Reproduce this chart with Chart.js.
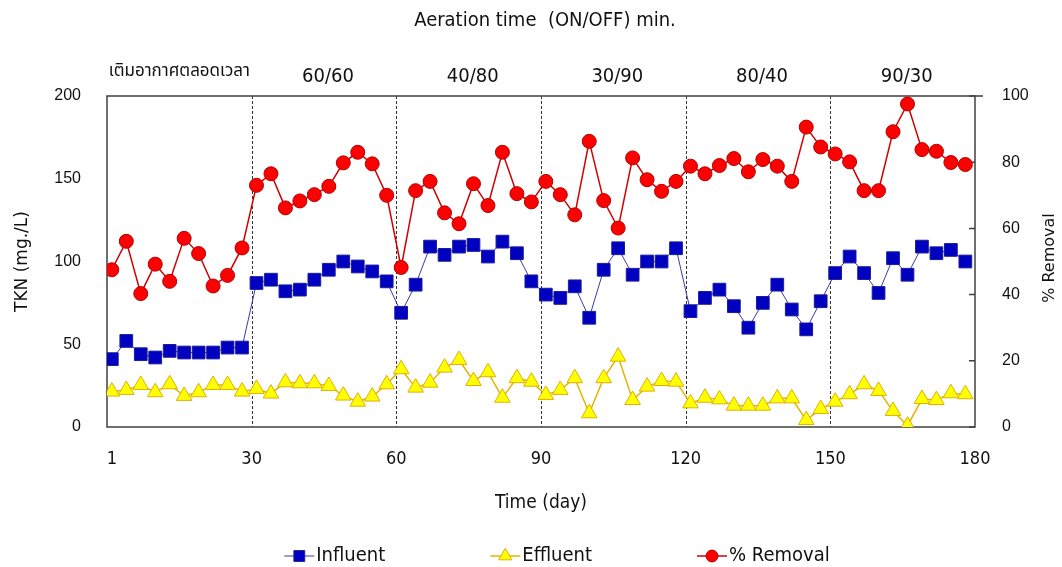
<!DOCTYPE html>
<html>
<head>
<meta charset="utf-8">
<script src="https://cdn.jsdelivr.net/npm/chart.js@4.4.1/dist/chart.umd.min.js"></script>
<style>
  html, body { margin: 0; padding: 0; background: #fff; }
  #wrap { width: 1062px; height: 567px; }
</style>
</head>
<body>
<div id="wrap"><canvas id="c" width="1062" height="567"></canvas></div>
<script>
// Sampling days (every 3 days over the 180-day run)
const days = [1, 4, 7, 10, 13, 16, 19, 22, 25, 28,
  31, 34, 37, 40, 43, 46, 49, 52, 55, 58,
  61, 64, 67, 70, 73, 76, 79, 82, 85, 88,
  91, 94, 97, 100, 103, 106, 109, 112, 115, 118,
  121, 124, 127, 130, 133, 136, 139, 142, 145, 148,
  151, 154, 157, 160, 163, 166, 169, 172, 175, 178];

// TKN in the influent (mg/L)
const influent = [41, 52, 44, 42, 46, 45, 45, 45, 48, 48,
  87, 89, 82, 83, 89, 95, 100, 97, 94, 88,
  69, 86, 109, 104, 109, 110, 103, 112, 105, 88,
  80, 78, 85, 66, 95, 108, 92, 100, 100, 108,
  70, 78, 83, 73, 60, 75, 86, 71, 59, 76,
  93, 103, 93, 81, 102, 92, 109, 105, 107, 100];

// TKN in the effluent (mg/L)
const effluent = [21.4, 22.4, 25.4, 21, 25.8, 18.8, 21, 25.4, 25.4, 21.4,
  23, 20.2, 27, 26.4, 26.4, 24.8, 19, 15.3, 18.4, 25.8,
  34.9, 23.8, 26.8, 35.9, 40.5, 27.8, 33.1, 17.7, 29.5, 27.4,
  19.4, 22.4, 29.5, 8.3, 29.5, 42.5, 16.3, 24.4, 27.8, 27.4,
  14.3, 17.7, 16.7, 12.9, 12.9, 12.9, 17.3, 17.3, 4.2, 10.9,
  15.3, 19.8, 25.8, 21.8, 9.7, 0.8, 16.9, 16.3, 20.4, 19.8];

// TKN removal efficiency (%)
const removal = [47.5, 56.1, 40.3, 49.2, 44, 57, 52.4, 42.6, 45.8, 54.1,
  73, 76.5, 66.2, 68.3, 70.2, 72.7, 79.8, 83, 79.5, 70,
  48.2, 71.4, 74.2, 64.7, 61.4, 73.5, 66.9, 83, 70.5, 68,
  74.2, 70.2, 64.1, 86.3, 68.4, 60.1, 81.3, 74.7, 71.2, 74.2,
  78.8, 76.5, 79, 81.1, 77.1, 80.8, 78.8, 74.2, 90.6, 84.6,
  82.5, 80.1, 71.4, 71.4, 89.2, 97.6, 83.8, 83.3, 79.9, 79.3];

// Aeration phases: boundaries (day) and ON/OFF labels
const phaseBounds = [0, 30, 60, 90, 120, 150, 180];
const phaseLabels = ['เติมอากาศตลอดเวลา', '60/60', '40/80', '30/90', '80/40', '90/30'];
const headerTitle = 'Aeration time  (ON/OFF) min.';

// Axis ticks
const xTicks = [1, 30, 60, 90, 120, 150, 180];
const leftTicks = [0, 50, 100, 150, 200];
const rightTicks = [0, 20, 40, 60, 80, 100];

const seriesNames = ['Influent', 'Effluent', '% Removal'];

const NARROW = '"Liberation Sans Narrow", "DejaVu Sans Condensed", "Noto Sans", sans-serif';
const THAI = '"Noto Sans Thai", "Noto Sans Thai UI", Loma, Garuda, "Tlwg Typist", "Noto Sans", sans-serif';
const WIDE = '"DejaVu Sans", Verdana, sans-serif';
const PLAIN = '"Liberation Sans", Arial, sans-serif';

const toPts = (arr) => arr.map((v, i) => ({ x: days[i], y: v }));

function drawMarker(ctx, style, x, y, r, fill, stroke, bw) {
  ctx.save();
  ctx.fillStyle = fill;
  ctx.strokeStyle = stroke;
  ctx.lineWidth = bw;
  ctx.beginPath();
  if (style === 'rect') {
    const s = r * Math.SQRT1_2;
    ctx.rect(x - s, y - s, 2 * s, 2 * s);
  } else if (style === 'triangle') {
    let a = 0;
    ctx.moveTo(x + Math.sin(a) * r, y - Math.cos(a) * r);
    a += 2 * Math.PI / 3;
    ctx.lineTo(x + Math.sin(a) * r, y - Math.cos(a) * r);
    a += 2 * Math.PI / 3;
    ctx.lineTo(x + Math.sin(a) * r, y - Math.cos(a) * r);
    ctx.closePath();
  } else {
    ctx.arc(x, y, r, 0, Math.PI * 2);
  }
  ctx.fill();
  ctx.stroke();
  ctx.restore();
}

const decorPlugin = {
  id: 'decor',
  beforeDatasetsDraw(chart) {
    const { ctx, chartArea: a, scales } = chart;
    ctx.save();
    // phase separators
    ctx.strokeStyle = '#333';
    ctx.lineWidth = 1;
    ctx.setLineDash([3, 2]);
    phaseBounds.slice(1, -1).forEach(d => {
      const x = Math.round(scales.x.getPixelForValue(d)) + 0.5;
      ctx.beginPath();
      ctx.moveTo(x, a.top);
      ctx.lineTo(x, a.bottom);
      ctx.stroke();
    });
    ctx.setLineDash([]);
    // plot frame
    ctx.strokeStyle = '#404040';
    ctx.lineWidth = 1.5;
    ctx.strokeRect(a.left, a.top, a.right - a.left, a.bottom - a.top);
    // inner tick marks on the right axis
    ctx.beginPath();
    scales.yR.ticks.forEach(t => {
      const y = scales.yR.getPixelForValue(t.value);
      ctx.moveTo(a.right - 6, y);
      ctx.lineTo(t.value === 100 ? a.right + 8 : a.right, y);
    });
    ctx.stroke();
    ctx.restore();
  },
  afterDraw(chart) {
    const { ctx, scales } = chart;
    ctx.save();
    ctx.fillStyle = '#111';
    ctx.textAlign = 'center';
    ctx.textBaseline = 'middle';
    // header
    ctx.font = '20px ' + NARROW;
    ctx.fillText(headerTitle, 545, 21);
    // phase labels
    phaseLabels.forEach((lbl, i) => {
      const xc = (scales.x.getPixelForValue(phaseBounds[i]) + scales.x.getPixelForValue(phaseBounds[i + 1])) / 2;
      if (i === 0) {
        ctx.font = '17px ' + THAI;
        ctx.fillText(lbl, xc, 73);
      } else {
        ctx.font = '20px ' + NARROW;
        ctx.fillText(lbl, xc + 4, 77);
      }
    });
    // right axis title
    ctx.save();
    ctx.translate(1050, 258);
    ctx.rotate(-Math.PI / 2);
    ctx.font = '16px ' + WIDE;
    ctx.fillText('% Removal', 0, 0);
    ctx.restore();
    // legend
    ctx.font = '20px ' + NARROW;
    ctx.textAlign = 'left';
    const lineLen = 30, gapText = 2, gapItem = 105;
    const widths = chart.data.datasets.map(ds => lineLen + gapText + ctx.measureText(ds.label).width);
    const total = widths.reduce((s, w) => s + w, 0) + gapItem * (widths.length - 1);
    let x = 557 - total / 2;
    const ly = 556;
    chart.data.datasets.forEach((ds, i) => {
      ctx.strokeStyle = ds.borderColor;
      ctx.lineWidth = ds.borderWidth;
      ctx.beginPath();
      ctx.moveTo(x, ly);
      ctx.lineTo(x + lineLen, ly);
      ctx.stroke();
      drawMarker(ctx, ds.pointStyle, x + lineLen / 2, ly, ds.pointRadius * 0.85,
        ds.pointBackgroundColor, ds.pointBorderColor, 1);
      ctx.fillStyle = '#111';
      ctx.fillText(ds.label, x + lineLen + gapText, ly);
      x += widths[i] + gapItem;
    });
    ctx.restore();
  }
};

new Chart(document.getElementById('c'), {
  type: 'line',
  data: {
    datasets: [
      {
        label: seriesNames[0],
        data: toPts(influent),
        yAxisID: 'yL',
        borderColor: '#3a3aa8',
        borderWidth: 1,
        pointStyle: 'rect',
        pointRadius: 9,
        pointBackgroundColor: '#0000c0',
        pointBorderColor: '#1c1c9c',
        pointBorderWidth: 1,
        order: 3
      },
      {
        label: seriesNames[1],
        data: toPts(effluent),
        yAxisID: 'yL',
        borderColor: '#e6b400',
        borderWidth: 1.5,
        pointStyle: 'triangle',
        pointRadius: 9,
        pointBackgroundColor: '#ffff00',
        pointBorderColor: '#e0b000',
        pointBorderWidth: 1,
        order: 2
      },
      {
        label: seriesNames[2],
        data: toPts(removal),
        yAxisID: 'yR',
        borderColor: '#d00000',
        borderWidth: 1.5,
        pointStyle: 'circle',
        pointRadius: 7,
        pointBackgroundColor: '#ff0000',
        pointBorderColor: '#b00000',
        pointBorderWidth: 1,
        order: 1
      }
    ]
  },
  options: {
    responsive: false,
    animation: false,
    layout: { padding: { top: 96, left: 10, right: 2, bottom: 52 } },
    plugins: {
      legend: { display: false },
      tooltip: { enabled: false }
    },
    scales: {
      x: {
        type: 'linear',
        min: 0,
        max: 180,
        afterBuildTicks: s => { s.ticks = xTicks.map(v => ({ value: v })); },
        afterFit: s => { s.height = 88; },
        grid: { display: false, drawTicks: false },
        border: { display: false },
        ticks: { padding: 22, color: '#111', font: { family: NARROW, size: 18 } },
        title: { display: true, text: 'Time (day)', color: '#111',
          font: { family: NARROW, size: 19 }, padding: { top: 0, bottom: 1 } }
      },
      yL: {
        position: 'left',
        min: 0,
        max: 200,
        afterBuildTicks: s => { s.ticks = leftTicks.map(v => ({ value: v })); },
        afterFit: s => { s.width = 97; },
        grid: { display: false, drawTicks: false },
        border: { display: false },
        ticks: { padding: 26, color: '#111', font: { family: PLAIN, size: 16 } },
        title: { display: true, text: 'TKN (mg./L)', color: '#111',
          font: { family: WIDE, size: 17 }, padding: { top: 2, bottom: 0 } }
      },
      yR: {
        position: 'right',
        min: 0,
        max: 100,
        afterBuildTicks: s => { s.ticks = rightTicks.map(v => ({ value: v })); },
        afterFit: s => { s.width = 85; },
        grid: { display: false, drawTicks: false },
        border: { display: false },
        ticks: { padding: 27, color: '#111', font: { family: PLAIN, size: 16 } }
      }
    }
  },
  plugins: [decorPlugin]
});
</script>
</body>
</html>
